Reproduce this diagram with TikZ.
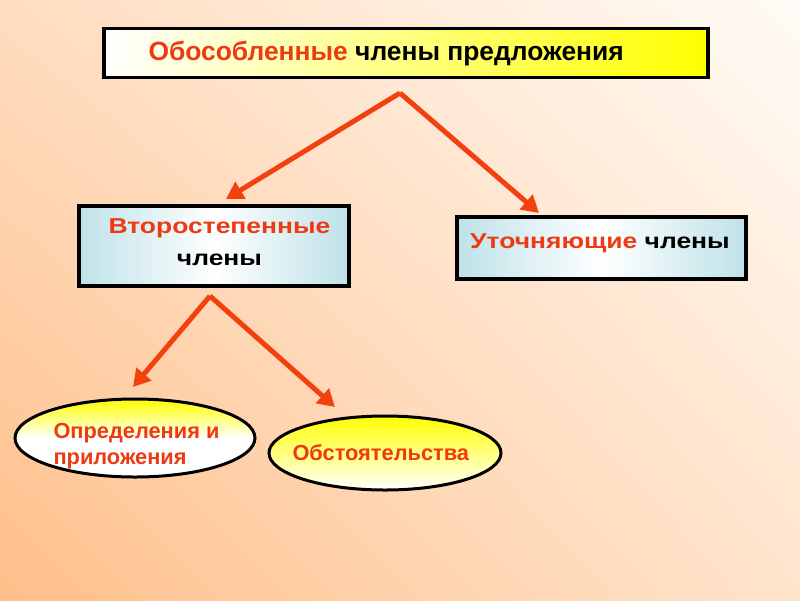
\documentclass[tikz,border=0pt]{standalone}
\usepackage{fontspec}
\setmainfont{Liberation Sans}
\newfontfamily\widefont[FakeStretch=1.23]{Liberation Sans}
\usetikzlibrary{shapes.geometric,arrows.meta,shadings}
\definecolor{bgTL}{HTML}{FFDDC0}
\definecolor{bgTR}{HTML}{FFFBF6}
\definecolor{bgBL}{HTML}{FFBF8A}
\definecolor{bgBR}{HTML}{FFE4CC}
\definecolor{redtxt}{HTML}{EE3A12}
\definecolor{arrowred}{HTML}{F2400F}
\definecolor{lightblue}{HTML}{BEE2E8}
\definecolor{yell}{HTML}{FFFF00}
\tikzset{
  boxstyle/.style={draw=black, line width=3.5pt, rectangle, inner sep=0pt},
  ellstyle/.style={draw=black, line width=3pt, ellipse, inner sep=0pt},
  boxtext/.style={font=\widefont\bfseries\fontsize{21.5}{32}\selectfont, align=center},
  elltext/.style={font=\bfseries\fontsize{21.8}{26}\selectfont, text=redtxt},
  redarrow/.style={draw=arrowred, line width=5pt, -{Triangle[length=17pt,width=19pt]}, line join=miter},
}
\begin{document}
\begin{tikzpicture}[x=1pt,y=-1pt]
\useasboundingbox (0,0) rectangle (800,600);
\shade[upper left=bgTL, upper right=bgTR, lower left=bgBL, lower right=bgBR] (0,0) rectangle (800,600);
% top box
\node[boxstyle, minimum width=604pt, minimum height=49pt, left color=white, right color=yell] (top) at (406,53) {};
\node[font=\bfseries\fontsize{26.4}{30}\selectfont, anchor=base west] (toptxt) at (145,60) {\textcolor{redtxt}{Обособленные} члены предложения};
% second-level boxes
\node[boxstyle, minimum width=270pt, minimum height=80pt, shading=axis, shading angle=60, left color=lightblue, right color=lightblue, middle color=white] (vtor) at (214,246) {};
\node[boxtext, anchor=base] (vtortxt) at (219.5,265) {\textcolor{redtxt}{Второстепенные}\\члены};
\node[boxstyle, minimum width=289pt, minimum height=62pt, shading=axis, shading angle=60, left color=lightblue, right color=lightblue, middle color=white] (utoch) at (601.5,248) {};
\node[boxtext, anchor=base] (utochtxt) at (600,248) {\textcolor{redtxt}{Уточняющие} члены};
% ellipses
\node[ellstyle, minimum width=240pt, minimum height=78pt, shading=axis, shading angle=-150, top color=yell, bottom color=white, middle color=white] (opr) at (135,438) {};
\node[elltext, align=left, anchor=base west] (oprtxt) at (50,464) {Определения и\\приложения};
\node[ellstyle, minimum width=232pt, minimum height=74pt, top color=yell, bottom color=white] (obst) at (385,453) {};
\node[elltext, anchor=base west] (obsttxt) at (289,460) {Обстоятельства};
% arrows
\coordinate (apex1) at (400,93);
\coordinate (apex2) at (210,296);
\coordinate (t1) at (226,199);
\coordinate (t2) at (539,213);
\coordinate (t3) at (133,387);
\coordinate (t4) at (335,407);
\draw[redarrow] (apex1) -- (t1);
\draw[redarrow] (apex1) -- (t2);
\draw[redarrow] (apex2) -- (t3);
\draw[redarrow] (apex2) -- (t4);
\end{tikzpicture}
\end{document}
